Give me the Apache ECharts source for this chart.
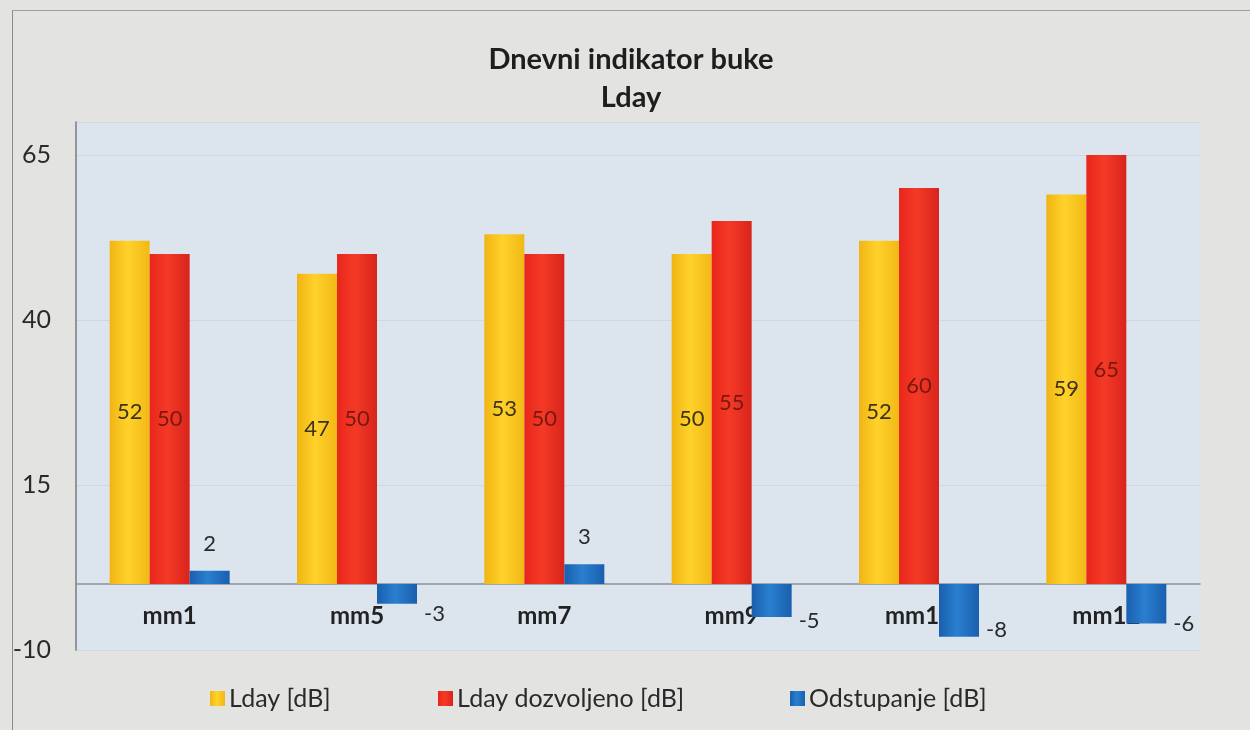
<!DOCTYPE html>
<html>
<head>
<meta charset="utf-8">
<script src="https://cdn.jsdelivr.net/npm/echarts@6/dist/echarts.min.js"></script>
<style>
html,body{margin:0;padding:0;background:#e3e3e1;}
#chart{width:1250px;height:730px;position:relative;}
#frame{position:absolute;left:12px;top:10px;width:1300px;height:800px;border-left:1.5px solid #8a8a8a;border-top:1.5px solid #a0a0a0;pointer-events:none;}
</style>
</head>
<body>
<div id="chart"></div>
<div id="frame"></div>
<script>
const categories = ['mm1', 'mm5', 'mm7', 'mm9', 'mm11', 'mm12'];
const lday = [52, 47, 53, 50, 52, 59];
const ldayAllowed = [50, 50, 50, 55, 60, 65];
const deviation = [2, -3, 3, -5, -8, -6];
const seriesNames = ['Lday [dB]', 'Lday dozvoljeno [dB]', 'Odstupanje [dB]'];
const yTicks = [-10, 15, 40, 65];

const FONT = 'Lato, "Open Sans", sans-serif';

function grad(c1, c2, c3) {
  return new echarts.graphic.LinearGradient(0, 0, 1, 0, [
    {offset: 0, color: c1}, {offset: 0.45, color: c2}, {offset: 1, color: c3}
  ]);
}

const chart = echarts.init(document.getElementById('chart'), null, {renderer: 'canvas'});

const devData = deviation.map(v => ({
  value: v,
  label: v >= 0
    ? {show: true, position: 'top', distance: 16, color: '#2a2a2a', fontSize: 22, fontFamily: FONT}
    : {show: true, position: 'right', distance: 7, offset: [0, 20], color: '#2a2a2a', fontSize: 22, fontFamily: FONT}
}));

const legendBase = {
  top: 681, itemWidth: 15, itemHeight: 15, itemGap: 0,
  textStyle: {fontSize: 25, color: '#2a2a2a', fontFamily: FONT, padding: [0, 0, 0, -1]},
  icon: 'rect'
};

chart.setOption({
  backgroundColor: '#e3e3e1',
  animation: false,
  title: {
    text: 'Dnevni indikator buke\nLday',
    left: 626, top: 36,
    textAlign: 'center',
    textStyle: {fontSize: 29, fontWeight: 'bold', color: '#1e1e1e', fontFamily: FONT, lineHeight: 38}
  },
  legend: [
    Object.assign({}, legendBase, {left: 205, data: [seriesNames[0]]}),
    Object.assign({}, legendBase, {left: 433, data: [seriesNames[1]]}),
    Object.assign({}, legendBase, {left: 785, data: [seriesNames[2]]})
  ],
  grid: {
    left: 76, right: 50, top: 122, bottom: 80,
    show: true, backgroundColor: '#dce5ee', borderWidth: 0
  },
  xAxis: {
    type: 'category',
    data: categories,
    axisLine: {show: true, onZero: true, lineStyle: {color: '#8c9096', width: 1.5}},
    axisTick: {show: false},
    axisLabel: {margin: -46, fontSize: 24, fontWeight: 'bold', color: '#222', fontFamily: FONT}
  },
  yAxis: {
    type: 'value',
    min: yTicks[0], max: 70, interval: yTicks[1] - yTicks[0],
    axisLine: {show: true, lineStyle: {color: '#7b7b7b', width: 1.5}},
    axisTick: {show: false},
    axisLabel: {
      margin: 25, fontSize: 25, color: '#2a2a2a', fontFamily: FONT,
      showMaxLabel: false,
      formatter: v => (yTicks.indexOf(v) >= 0 ? String(v) : '')
    },
    splitLine: {show: true, lineStyle: {color: '#d0d7de', width: 1}}
  },
  series: [
    {
      name: seriesNames[0], type: 'bar', data: lday,
      barWidth: 40, barGap: '0%',
      itemStyle: {color: grad('#f0b414', '#ffd22a', '#f2b816')},
      label: {show: true, position: 'inside', color: '#3d3318', fontSize: 22, fontFamily: FONT}
    },
    {
      name: seriesNames[1], type: 'bar', data: ldayAllowed,
      barWidth: 40, barGap: '0%',
      itemStyle: {color: grad('#e8261c', '#f43a26', '#d8241c')},
      label: {show: true, position: 'inside', color: '#7a1810', fontSize: 22, fontFamily: FONT}
    },
    {
      name: seriesNames[2], type: 'bar', data: devData,
      barWidth: 40, barGap: '0%',
      itemStyle: {color: grad('#1a5fae', '#2a7fd0', '#1a5fae')}
    }
  ]
});
</script>
</body>
</html>
